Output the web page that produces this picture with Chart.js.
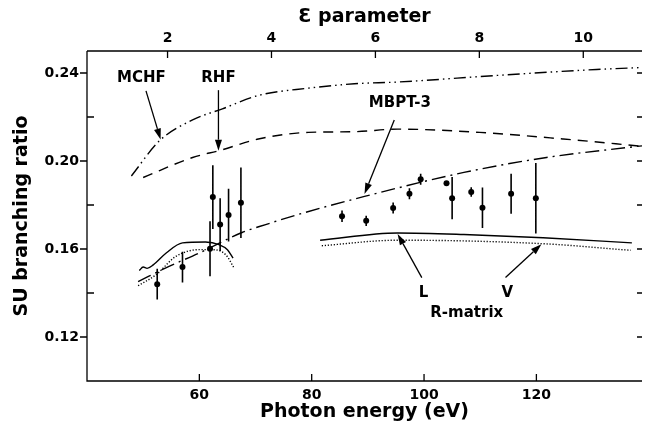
<!DOCTYPE html>
<html>
<head>
<meta charset="utf-8">
<script src="https://cdn.jsdelivr.net/npm/chart.js@4.4.1/dist/chart.umd.min.js"></script>
<style>
  html, body { margin: 0; padding: 0; background: #fff; }
</style>
</head>
<body>
<canvas id="chart" width="646" height="434"></canvas>
<script>
// measured SU branching ratio (photon energy in eV)
const expEnergy = [52.5, 57.0, 61.9, 62.4, 63.7, 65.2, 67.4, 85.4, 89.7, 94.5, 97.4, 99.4, 104.0, 105.0, 108.4, 110.4, 115.5, 119.9];
const expRatio  = [0.144, 0.1518, 0.1601, 0.1836, 0.1711, 0.1754, 0.181, 0.1749, 0.1728, 0.1786, 0.1851, 0.1917, 0.1899, 0.1831, 0.1859, 0.1787, 0.1851, 0.1831];
const expError  = [0.007, 0.007, 0.0125, 0.0145, 0.012, 0.012, 0.016, 0.0026, 0.0023, 0.0025, 0.0025, 0.0025, 0.001, 0.0096, 0.0022, 0.0092, 0.0091, 0.016];

// theory curves
const mchfE = [47.9, 52.9, 58.8, 64.1, 70.5, 79.4, 87.6, 95.3, 113.0, 130.7, 138.8];
const mchfR = [0.1932, 0.2092, 0.2187, 0.2237, 0.2298, 0.2331, 0.2351, 0.2359, 0.2389, 0.2416, 0.2425];
const rhfE  = [50.0, 58.8, 63.8, 70.5, 79.4, 87.6, 95.3, 109.9, 124.8, 138.8];
const rhfR  = [0.1925, 0.2016, 0.2049, 0.2100, 0.2130, 0.2133, 0.2145, 0.2130, 0.2100, 0.2067];
const mbptE = [49.1, 54.6, 60.0, 67.6, 71.8, 77.6, 89.4, 107.1, 121.8, 138.8];
const mbptR = [0.1452, 0.1521, 0.1582, 0.1675, 0.1711, 0.1757, 0.1839, 0.1948, 0.2016, 0.2069];

// R-matrix, length (L) and velocity (V) forms, two pieces each
const lLowE  = [49.3, 50.0, 50.7, 51.8, 54.1, 57.0, 61.1, 63.5, 65.0, 66.0];
const lLowR  = [0.1502, 0.1518, 0.1512, 0.1528, 0.1582, 0.1628, 0.1632, 0.1620, 0.1597, 0.1559];
const lHighE = [81.5, 95.3, 107.1, 121.2, 137.0];
const lHighR = [0.1640, 0.1673, 0.1666, 0.1651, 0.1628];
const vLowE  = [49.1, 52.3, 55.8, 60.0, 62.3, 64.7, 66.2];
const vLowR  = [0.1433, 0.1483, 0.1566, 0.1597, 0.1597, 0.1574, 0.1513];
const vHighE = [81.8, 95.3, 121.2, 136.8];
const vHighR = [0.1615, 0.1640, 0.1624, 0.1594];

// axes
const energyTicks = [60, 80, 100, 120];
const epsTicks = [2, 4, 6, 8, 10];
const ratioTicks = [0.12, 0.16, 0.20, 0.24];
const ratioMinor = [0.14, 0.18, 0.22];

// labels with arrows, in data coordinates
const notes = [
  { text: 'MCHF', at: [49.7, 0.2376], from: [50.5, 0.2319], to: [53.1, 0.2098] },
  { text: 'RHF', at: [63.4, 0.2376], from: [63.4, 0.2322], to: [63.4, 0.2047] },
  { text: 'MBPT-3', at: [95.7, 0.2262], from: [94.7, 0.2186], to: [89.4, 0.1850] },
  { text: 'L', at: [99.9, 0.1398], from: [99.6, 0.1470], to: [95.3, 0.1668] },
  { text: 'V', at: [114.8, 0.1398], from: [114.5, 0.1470], to: [120.9, 0.1622] },
  { text: 'R-matrix', at: [107.6, 0.1308] }
];

const FONT = "'DejaVu Sans', sans-serif";
const pts = (xs, ys) => xs.map((v, i) => ({ x: v, y: ys[i] }));

function curve(xs, ys, dash) {
  return {
    type: 'line', data: pts(xs, ys), borderColor: '#000', borderWidth: 1.4,
    borderDash: dash, pointRadius: 0, cubicInterpolationMode: 'monotone', fill: false
  };
}

const frame = {
  id: 'frame',
  beforeDatasetsDraw(chart) {
    const { ctx, scales: { x, y } } = chart;
    ctx.save();
    ctx.strokeStyle = '#000';
    ctx.lineWidth = 1.6;
    ctx.beginPath();
    expEnergy.forEach((e, i) => {
      const px = x.getPixelForValue(e);
      ctx.moveTo(px, y.getPixelForValue(expRatio[i] + expError[i]));
      ctx.lineTo(px, y.getPixelForValue(expRatio[i] - expError[i]));
    });
    ctx.stroke();
    ctx.restore();
  },
  afterDraw(chart) {
    const { ctx, chartArea: a, scales: { x, y, x2 } } = chart;
    ctx.save();
    ctx.strokeStyle = '#000';
    ctx.lineWidth = 1.3;
    ctx.beginPath();
    ctx.moveTo(a.left, a.top); ctx.lineTo(a.right, a.top);
    ctx.moveTo(a.left, a.top); ctx.lineTo(a.left, a.bottom); ctx.lineTo(a.right, a.bottom);
    ratioTicks.forEach(v => {
      const py = y.getPixelForValue(v);
      ctx.moveTo(a.left - 7, py); ctx.lineTo(a.left, py);
    });
    ratioMinor.forEach(v => {
      const py = y.getPixelForValue(v);
      ctx.moveTo(a.left, py); ctx.lineTo(a.left + 7, py);
    });
    ratioTicks.concat(ratioMinor).forEach(v => {
      const py = y.getPixelForValue(v);
      ctx.moveTo(a.right - 5, py); ctx.lineTo(a.right, py);
    });
    energyTicks.forEach(v => {
      const px = x.getPixelForValue(v);
      ctx.moveTo(px, a.bottom); ctx.lineTo(px, a.bottom - 7);
    });
    epsTicks.forEach(v => {
      const px = x2.getPixelForValue(v);
      ctx.moveTo(px, a.top); ctx.lineTo(px, a.top + 7);
    });
    ctx.stroke();

    // annotations
    ctx.fillStyle = '#000';
    ctx.font = 'bold 15px ' + FONT;
    ctx.textAlign = 'center';
    ctx.textBaseline = 'middle';
    ctx.lineWidth = 1.3;
    notes.forEach(n => {
      ctx.fillText(n.text, x.getPixelForValue(n.at[0]), y.getPixelForValue(n.at[1]));
      if (!n.from) return;
      const x1 = x.getPixelForValue(n.from[0]), y1 = y.getPixelForValue(n.from[1]);
      const x2p = x.getPixelForValue(n.to[0]), y2p = y.getPixelForValue(n.to[1]);
      const ang = Math.atan2(y2p - y1, x2p - x1);
      const len = 11, half = 3.5;
      const bx = x2p - len * Math.cos(ang), by = y2p - len * Math.sin(ang);
      ctx.beginPath();
      ctx.moveTo(x1, y1); ctx.lineTo(bx, by);
      ctx.stroke();
      ctx.beginPath();
      ctx.moveTo(x2p, y2p);
      ctx.lineTo(bx + half * Math.sin(ang), by - half * Math.cos(ang));
      ctx.lineTo(bx - half * Math.sin(ang), by + half * Math.cos(ang));
      ctx.closePath();
      ctx.fill();
    });
    ctx.restore();
  }
};

const tickFont = { family: FONT, size: 14, weight: 'bold' };
const titleFont = { family: FONT, size: 19, weight: 'bold' };

new Chart(document.getElementById('chart'), {
  type: 'scatter',
  data: {
    datasets: [
      curve(mchfE, mchfR, [12, 4, 1.5, 4, 1.5, 4]),
      curve(rhfE, rhfR, [10, 7]),
      curve(mbptE, mbptR, [14, 5, 2, 5]),
      curve(lLowE, lLowR, []),
      curve(lHighE, lHighR, []),
      curve(vLowE, vLowR, [1.2, 1.8]),
      curve(vHighE, vHighR, [1.2, 1.8]),
      {
        type: 'scatter', data: pts(expEnergy, expRatio),
        pointRadius: 3, pointBackgroundColor: '#000', pointBorderColor: '#000', pointBorderWidth: 0
      }
    ]
  },
  options: {
    responsive: false,
    animation: false,
    devicePixelRatio: 1,
    layout: { padding: 0 },
    plugins: { legend: { display: false }, tooltip: { enabled: false } },
    scales: {
      x: {
        type: 'linear', position: 'bottom', min: 40, max: 138.8,
        afterBuildTicks: s => { s.ticks = energyTicks.map(v => ({ value: v })); },
        afterFit: s => { s.height = 53; },
        grid: { display: false, drawTicks: false },
        border: { display: false },
        ticks: { color: '#000', font: tickFont, padding: 6, maxRotation: 0 },
        title: { display: true, text: 'Photon energy (eV)', color: '#000', font: titleFont, padding: { top: 0, bottom: 11 } }
      },
      x2: {
        type: 'linear', position: 'top', min: 0.45, max: 11.13,
        afterBuildTicks: s => { s.ticks = epsTicks.map(v => ({ value: v })); },
        afterFit: s => { s.height = 51; },
        grid: { display: false, drawTicks: false },
        border: { display: false },
        ticks: { color: '#000', font: tickFont, padding: 4, maxRotation: 0 },
        title: { display: true, text: 'Ɛ parameter', color: '#000', font: titleFont, padding: { top: 6, bottom: 0 } }
      },
      y: {
        type: 'linear', position: 'left', min: 0.10, max: 0.25,
        afterBuildTicks: s => { s.ticks = ratioTicks.map(v => ({ value: v })); },
        afterFit: s => { s.width = 87; },
        grid: { display: false, drawTicks: false },
        border: { display: false },
        ticks: { color: '#000', font: tickFont, padding: 8, callback: v => v.toFixed(2) },
        title: { display: true, text: 'SU branching ratio', color: '#000', font: titleFont, padding: { top: 11, bottom: 0 } }
      }
    }
  },
  plugins: [frame]
});
</script>
</body>
</html>
